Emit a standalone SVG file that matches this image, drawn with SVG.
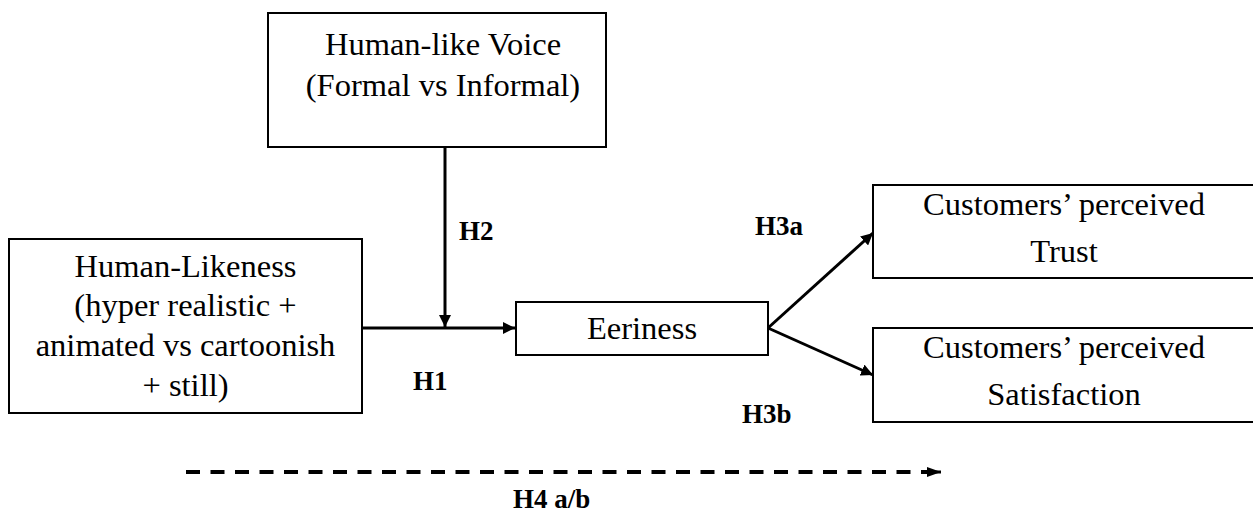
<svg xmlns="http://www.w3.org/2000/svg" width="1253" height="522" viewBox="0 0 1253 522">
  <style>
    .box { fill: #ffffff; stroke: #000000; stroke-width: 2; }
    .lbl { font-size: 32.5px; fill: #000000; text-anchor: middle; }
    .hyp { font-size: 27px; font-weight: bold; fill: #000000; }
    .link { fill: none; stroke: #000000; stroke-width: 3; }
    .dash { fill: none; stroke: #000000; stroke-width: 4; stroke-dasharray: 14 10.5; }
  </style>
  <defs>
    <marker id="head" markerUnits="userSpaceOnUse" markerWidth="14" markerHeight="12" refX="12" refY="6" orient="auto">
      <path d="M0,0 L12,6 L0,12 Z" fill="#000000"/>
    </marker>
    <marker id="headSmall" markerUnits="userSpaceOnUse" markerWidth="14" markerHeight="12" refX="14" refY="6" orient="auto">
      <path d="M0,1 L14,6 L0,11 Z" fill="#000000"/>
    </marker>
  </defs>

  <rect width="1253" height="522" fill="#ffffff"/>

  <!-- connectors -->
  <g id="connectors">
    <line class="link" x1="445" y1="147" x2="445" y2="327" marker-end="url(#head)"/>
    <line class="link" x1="362" y1="328" x2="515" y2="328" marker-end="url(#head)"/>
    <line class="link" x1="768" y1="328" x2="873" y2="233" marker-end="url(#head)"/>
    <line class="link" x1="768" y1="328" x2="873" y2="375" marker-end="url(#head)"/>
    <line class="dash" x1="186" y1="472" x2="927" y2="472"/>
    <line class="link" x1="926" y1="472" x2="941" y2="472" stroke-width="0" marker-end="url(#headSmall)"/>
  </g>

  <g font-family="Liberation Serif, DejaVu Serif, serif">
    <!-- hypothesis labels -->
    <g id="labels">
      <text class="hyp" x="459" y="240">H2</text>
      <text class="hyp" x="413" y="390">H1</text>
      <text class="hyp" x="755" y="235">H3a</text>
      <text class="hyp" x="742" y="423">H3b</text>
      <text class="hyp" x="513" y="508">H4 a/b</text>
    </g>

    <g id="voice">
      <rect class="box" x="268" y="13" width="338" height="134"/>
      <text class="lbl" x="443" y="55">Human-like Voice</text>
      <text class="lbl" x="443" y="96">(Formal vs Informal)</text>
    </g>

    <g id="likeness">
      <rect class="box" x="9" y="239" width="353" height="174"/>
      <text class="lbl" x="185.5" y="277">Human-Likeness</text>
      <text class="lbl" x="185.5" y="316">(hyper realistic +</text>
      <text class="lbl" x="185.5" y="356">animated vs cartoonish</text>
      <text class="lbl" x="185.5" y="396">+ still)</text>
    </g>

    <g id="eeriness">
      <rect class="box" x="516" y="302" width="252" height="53"/>
      <text class="lbl" x="642" y="339">Eeriness</text>
    </g>

    <g id="trust">
      <rect class="box" x="873" y="185" width="390" height="93"/>
      <text class="lbl" x="1064" y="215">Customers’ perceived</text>
      <text class="lbl" x="1064" y="262">Trust</text>
    </g>

    <g id="satisfaction">
      <rect class="box" x="873" y="328" width="390" height="94"/>
      <text class="lbl" x="1064" y="358">Customers’ perceived</text>
      <text class="lbl" x="1064" y="405">Satisfaction</text>
    </g>
  </g>
</svg>
